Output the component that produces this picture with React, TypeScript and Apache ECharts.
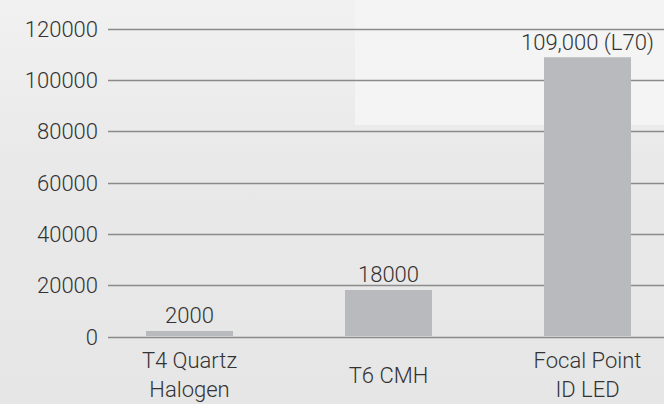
import React, { useEffect, useRef } from "react";
import * as echarts from "echarts";

const categories = ["T4 Quartz\nHalogen", "T6 CMH", "Focal Point\nID LED"];
const hours = [2000, 18000, 109000];
const barLabels = ["2000", "18000", "109,000 (L70)"];
const yMin = 0;
const yMax = 120000;
const yStep = 20000;

const FONT = "Roboto, 'Liberation Sans', Arial, sans-serif";
const TEXT = "#333333";
const FS = 22;

export default function App() {
  const ref = useRef<HTMLDivElement>(null);
  useEffect(() => {
    document.body.style.margin = "0";
    if (!ref.current) return;
    const chart = echarts.init(ref.current, undefined, { renderer: "svg" });
    chart.setOption({
      animation: false,
      backgroundColor: {
        type: "linear",
        x: 0,
        y: 0,
        x2: 0,
        y2: 1,
        colorStops: [
          { offset: 0, color: "#f1f1f1" },
          { offset: 0.4, color: "#e9e9e9" },
          { offset: 1, color: "#e6e6e6" },
        ],
      },
      graphic: [
        {
          type: "rect",
          z: -10,
          silent: true,
          shape: { x: 355, y: 0, width: 309, height: 125 },
          style: { fill: "#f4f4f4" },
        },
      ],
      grid: [
        { left: 108, right: 0, top: 29, bottom: 67 },
        { left: 189.5, right: 76.5, top: 29, bottom: 67 },
      ],
      xAxis: [
        {
          type: "category",
          gridIndex: 0,
          data: categories,
          show: false,
        },
        {
          type: "category",
          gridIndex: 1,
          data: categories,
          boundaryGap: false,
          axisLine: { show: false },
          axisTick: { show: false },
          splitLine: { show: false },
          axisLabel: {
            margin: 39,
            verticalAlign: "middle",
            color: TEXT,
            fontFamily: FONT,
            fontWeight: 300,
            fontSize: FS,
            lineHeight: 29,
            interval: 0,
          },
        },
      ],
      yAxis: [
        {
          type: "value",
          gridIndex: 0,
          min: yMin,
          max: yMax,
          interval: yStep,
          axisLine: { show: false },
          axisTick: { show: false },
          axisLabel: {
            margin: 10,
            color: TEXT,
            fontFamily: FONT,
            fontWeight: 300,
            fontSize: FS,
            padding: [0, 0, 10, 0],
            formatter: (v: number) => String(v),
          },
          splitLine: { lineStyle: { color: "#8a8a8a", width: 1.3 } },
        },
        {
          type: "value",
          gridIndex: 1,
          min: yMin,
          max: yMax,
          interval: yStep,
          show: false,
          splitLine: { show: false },
        },
      ],
      series: [
        {
          type: "bar",
          xAxisIndex: 1,
          yAxisIndex: 1,
          data: hours,
          barWidth: 87,
          clip: false,
          itemStyle: { color: "#b9babd" },
          label: {
            show: true,
            position: "top",
            distance: 4,
            color: TEXT,
            fontFamily: FONT,
            fontWeight: 300,
            fontSize: FS,
            formatter: (p: any) => barLabels[p.dataIndex],
          },
        },
      ],
    });
    return () => chart.dispose();
  }, []);
  return <div ref={ref} style={{ width: 664, height: 404 }} />;
}
